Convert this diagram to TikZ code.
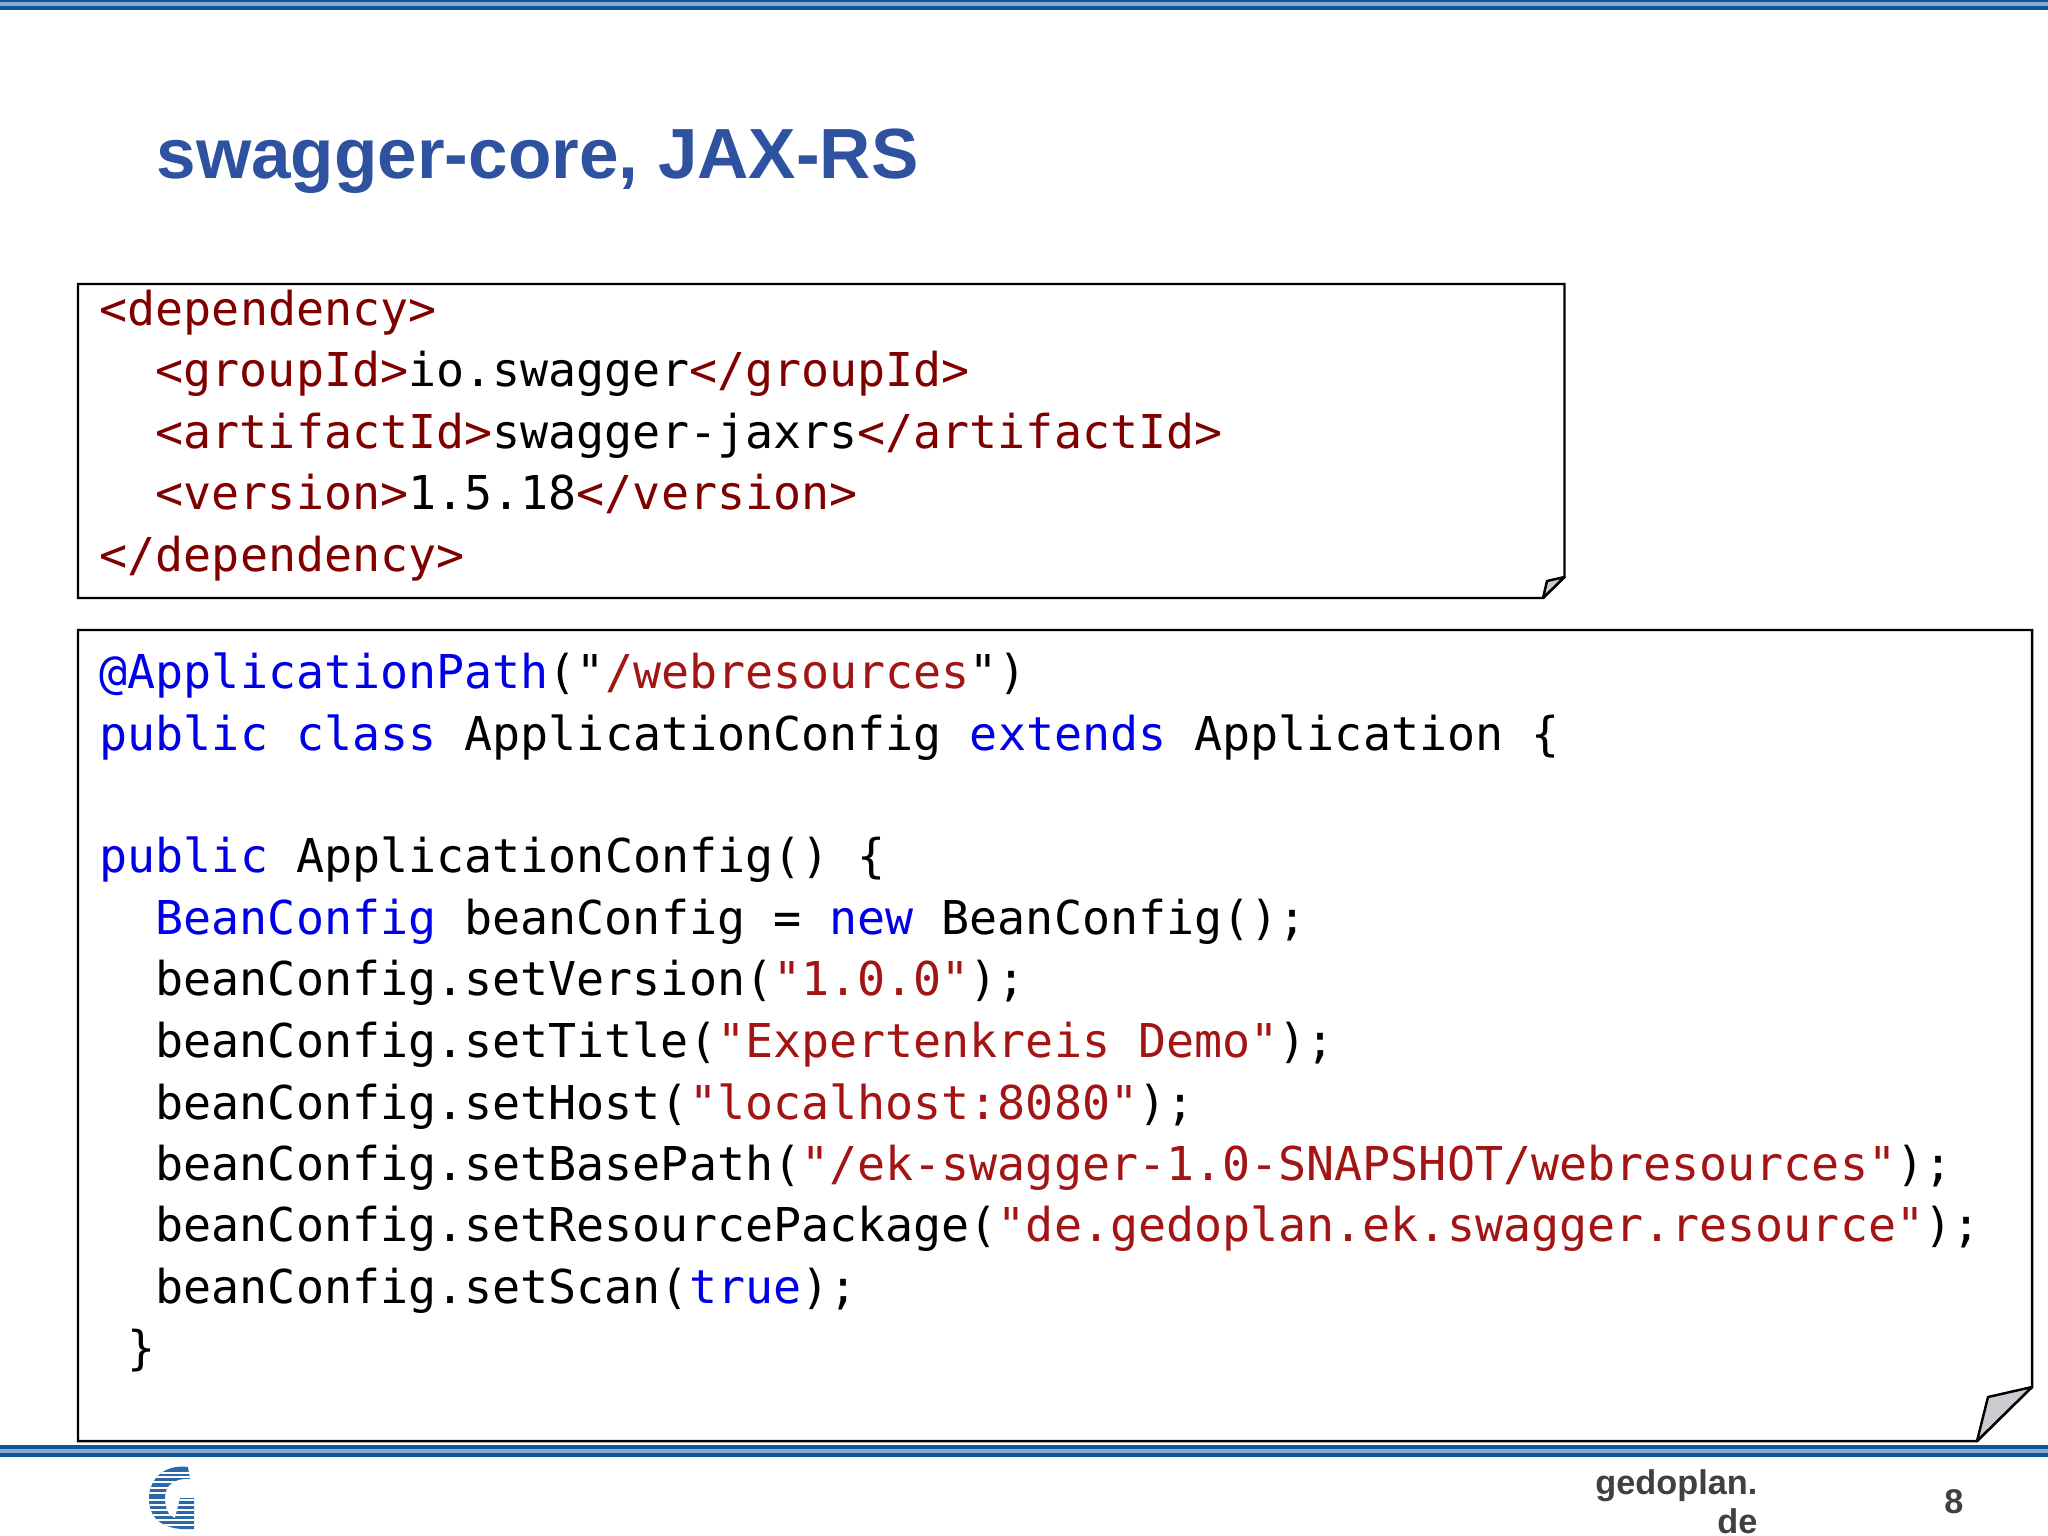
\documentclass[tikz,border=0pt]{standalone}
\usepackage{fontspec}
\setmainfont{Liberation Sans}
\setmonofont{DejaVu Sans Mono}
\definecolor{barDark}{HTML}{0F5596}
\definecolor{barLight}{HTML}{86ABD6}
\definecolor{logoBlue}{HTML}{2A68A8}
\definecolor{titleBlue}{HTML}{2F52A0}
\definecolor{tagRed}{HTML}{800000}
\definecolor{strRed}{HTML}{A31515}
\definecolor{kwBlue}{HTML}{0000E6}
\definecolor{footGrey}{HTML}{404040}
\definecolor{foldGrey}{HTML}{CBCBD0}
\tikzstyle{codeline}=[inner sep=0pt,anchor=base west,text=black,font=\ttfamily\fontsize{13.26}{16}\selectfont]
\tikzstyle{paper}=[draw,line width=0.7pt,line join=miter,fill=white]
\tikzstyle{fold}=[draw,line width=0.7pt,line join=round,fill=foldGrey]
\tikzstyle{footer}=[inner sep=0pt,anchor=base east,text=footGrey,font=\bfseries\fontsize{9.75}{12}\selectfont]
\newcommand{\tg}[1]{\textcolor{tagRed}{#1}}
\newcommand{\st}[1]{\textcolor{strRed}{#1}}
\newcommand{\kw}[1]{\textcolor{kwBlue}{#1}}

\begin{document}
\begin{tikzpicture}[x=0.01cm,y=0.01cm]
    \useasboundingbox (0,0) rectangle (2048,-1536);
    % Stripes at top and bottom
    \foreach \ytop/\ybot/\col in {0/10/barDark,2/6/barLight,1445/1457/barDark,1449/1453/barLight}
        \fill[\col] (0,-\ytop) rectangle (2048,-\ybot);
    \node[inner sep=0pt,anchor=base west,text=titleBlue,font=\bfseries\fontsize{20.2}{24}\selectfont] (title) at (156,-178) {swagger-core, JAX-RS};
    % Corners of the two sheets
    \foreach \xpos/\ypos/\name in {78/284/ua,1564.5/284/ub,1564.5/577/uc,1543/598/ud,78/598/ue,1547/581/uf,
                                   78/630/la,2032/630/lb,2032/1387/lc,1977/1441/ld,78/1441/le,1988/1397/lf}
        \coordinate (\name) at (\xpos,-\ypos);
    \path[paper] (ua) -- (ub) -- (uc) -- (ud) -- (ue) -- cycle;
    \path[fold] (uc) -- (uf) -- (ud) -- cycle;
    \path[paper] (la) -- (lb) -- (lc) -- (ld) -- (le) -- cycle;
    \path[fold] (lc) -- (lf) -- (ld) -- cycle;
    % Code lines
    \foreach \xpos/\ypos/\name/\code in {
        99/325/depa/{\tg{<dependency>}},
        155/386/group/{\tg{<groupId>}io.swagger\tg{</groupId>}},
        155/448/artifact/{\tg{<artifactId>}swagger-jaxrs\tg{</artifactId>}},
        155/509/version/{\tg{<version>}1.5.18\tg{</version>}},
        99/571/depb/{\tg{</dependency>}},
        99/688/path/{\kw{@ApplicationPath}("\st{/webresources}")},
        99/750/cls/{\kw{public class} ApplicationConfig \kw{extends} Application \{},
        99/872/ctor/{\kw{public} ApplicationConfig() \{},
        155/934/bean/{\kw{BeanConfig} beanConfig = \kw{new} BeanConfig();},
        155/995/setver/{beanConfig.setVersion(\st{"1.0.0"});},
        155/1057/settitle/{beanConfig.setTitle(\st{"Expertenkreis Demo"});},
        155/1119/sethost/{beanConfig.setHost(\st{"localhost:8080"});},
        155/1180/setbase/{beanConfig.setBasePath(\st{"/ek-swagger-1.0-SNAPSHOT/webresources"});},
        155/1241/setpkg/{beanConfig.setResourcePackage(\st{"de.gedoplan.ek.swagger.resource"});},
        155/1303/setscan/{beanConfig.setScan(\kw{true});},
        127/1364/close/{\}}}
        \node[codeline] (\name) at (\xpos,-\ypos) {\code};
    % Footer
    \node[footer] (site) at (1758,-1494) {gedoplan.};
    \node[footer] (tld) at (1758,-1533) {de};
    \node[footer] (page) at (1964,-1513) {8};
    % Logo
    \begin{scope}
        \clip (188,-1467) .. controls (165,-1464) and (149,-1478) .. (149,-1499)
            .. controls (149,-1520) and (165,-1531) .. (194,-1529) -- (194,-1498) -- (180,-1498)
            -- (175,-1518) .. controls (168,-1516) and (165,-1508) .. (165,-1498)
            .. controls (165,-1485) and (174,-1478) .. (190,-1479) -- cycle;
        \fill[logoBlue] (145,-1465) rectangle (198,-1532);
        \foreach \ypos in {1473,1477,1482,1488,1493,1500,1505,1510,1515,1520,1525}
            \draw[white,line width=0.37pt] (145,-\ypos) -- (198,-\ypos);
    \end{scope}
\end{tikzpicture}
\end{document}
